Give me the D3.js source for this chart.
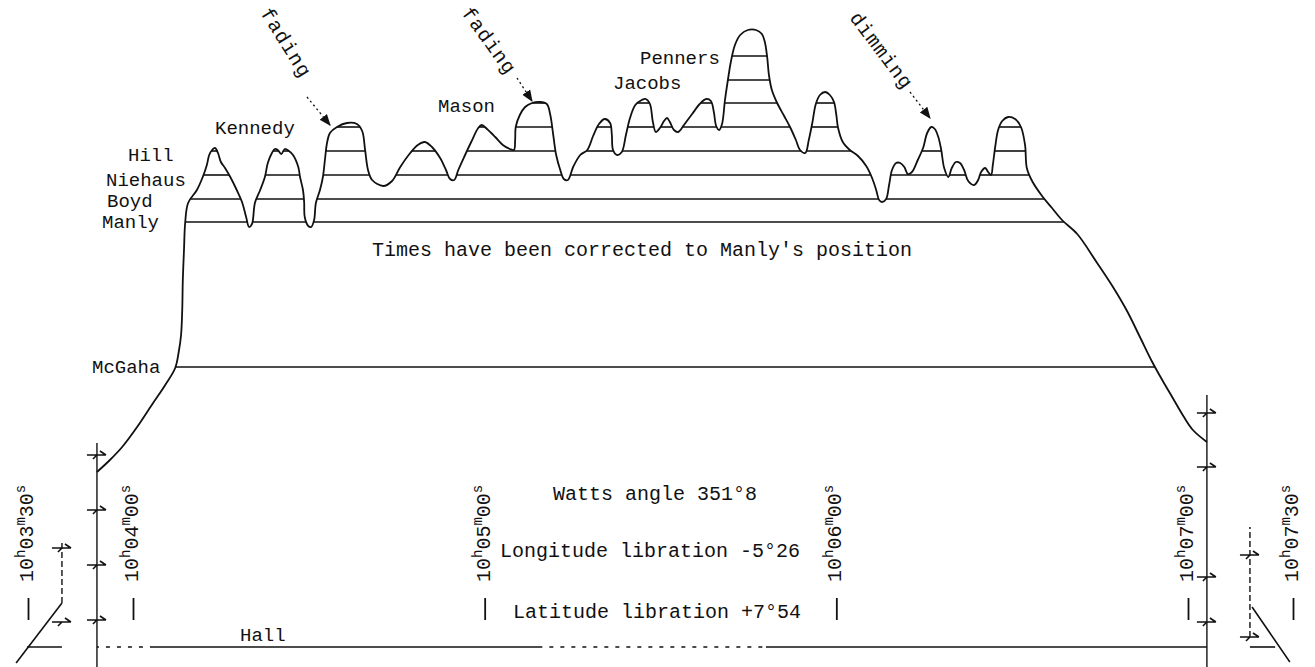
<!DOCTYPE html>
<html>
<head>
<meta charset="utf-8">
<script src="https://cdn.jsdelivr.net/npm/d3@7"></script>
<style>
  body { margin: 0; background: #fff; }
  text { font-family: "Liberation Mono", "DejaVu Sans Mono", monospace; fill: #111; }
</style>
</head>
<body>
<div id="chart"></div>
<script>
// times are seconds after 10h00m00s, heights are metres above Hall's chord
const timeTicks = [210, 240, 300, 360, 420, 450];

const observers = ["Hall", "McGaha", "Manly", "Boyd", "Niehaus", "Hill", "Kennedy", "Mason", "Jacobs", "Penners"];
const chordHeights = [0, 280, 425, 448, 472, 496, 520, 544, 567, 591];

// Hall's chord, with the stretches where it is only dotted
const hallSegments = [[209.7, 219.7], [229.7, 425.4], [437.7, 444.9]];
const hallDotted = [[229.7, 242.9], [309.5, 348]];

// Hall's timing marks (vertical scales)
const eventTimes = [219.7, 229.7, 425.4, 437.7];
const eventSpans = [[44, 107], [-20, 204], [-20, 252], [10, 120]];
const eventMarks = [[25, 99], [27, 82, 137, 192], [25, 70, 180, 234], [10, 92]];

// short limb fragments drawn beside Hall's outer marks
const leftFragment = [[206.6, -16], [219.7, 44]];
const rightFragment = [[438.3, 40], [449.1, -15]];

// the lunar limb profile
const profile = [
  [229.7,175],[233.4,187],[236.9,200],[240.7,220],[243.2,242],[245.5,262],[247.2,279],[247.8,295],
  [248.2,312],[248.4,337],[248.5,367],[248.7,397],[248.9,424],[249.4,444],[250.9,457],[251.9,470],
  [252.6,482],[253.0,492],[253.5,497],[254.0,499],[254.5,494],[255.0,485],[255.7,479],[256.6,470],
  [257.7,457],[258.6,445],[259.3,430],[259.8,420],[260.3,423],[260.8,444],[261.7,457],[262.5,470],
  [263.0,484],[263.7,494],[264.2,498],[264.7,497],[265.3,493],[265.9,498],[266.6,496],[267.3,492],
  [268.2,480],[268.5,470],[269.0,457],[269.2,445],[269.3,430],[269.9,421],[270.4,420],[270.9,427],
  [271.2,444],[271.9,457],[272.4,470],[272.8,490],[273.1,504],[273.6,514],[274.8,520],[276.5,524],
  [278.2,523],[279.1,516],[279.6,497],[280.1,477],[280.8,467],[282.7,461],[284.2,466],[285.6,480],
  [287.3,494],[288.6,502],[289.8,505],[291.0,500],[292.4,489],[293.4,477],[294.1,468],[294.8,467],
  [295.5,477],[296.5,490],[297.7,505],[298.9,519],[299.5,522],[300.4,518],[301.8,510],[303.1,502],
  [304.3,498],[305.0,497],[305.2,507],[305.3,520],[306.0,532],[306.9,540],[308.1,544],[309.4,545],
  [310.6,543],[311.2,532],[311.7,512],[312.2,492],[312.9,477],[313.5,468],[314.2,467],[315.1,480],
  [316.3,492],[317.5,497],[318.5,511],[319.5,523],[320.5,528],[321.4,524],[321.7,512],[321.9,497],
  [322.6,492],[323.4,495],[324.1,512],[324.8,529],[325.7,542],[326.8,547],[327.5,548],[328.2,543],
  [328.7,525],[329.2,515],[329.9,519],[330.6,526],[331.1,529],[331.6,525],[332.3,517],[333.0,515],
  [334.0,522],[335.4,533],[336.7,543],[337.8,548],[338.6,546],[339.1,535],[339.5,521],[340.0,517],
  [340.5,523],[341.0,547],[341.5,567],[342.0,585],[342.7,602],[343.6,612],[344.9,617],[346.3,617],
  [347.3,613],[347.8,605],[348.2,590],[348.5,572],[349.0,557],[349.9,544],[351.1,531],[352.1,520],
  [353.1,507],[353.8,497],[354.7,494],[355.3,507],[355.9,524],[356.5,543],[357.2,552],[358.1,555],
  [358.9,552],[359.6,545],[360.0,532],[360.3,519],[361.1,505],[362.3,497],[363.7,491],[365.1,481],
  [366.1,469],[366.8,457],[367.3,447],[367.8,445],[368.5,448],[369.0,462],[369.5,477],[370.2,484],
  [370.9,484],[371.6,480],[372.2,473],[372.9,475],[373.9,487],[374.8,499],[375.5,514],[376.2,520],
  [376.8,518],[377.4,510],[377.9,497],[378.4,479],[379.1,470],[379.7,479],[380.4,485],[381.1,484],
  [381.8,477],[382.5,466],[383.5,462],[384.2,467],[384.7,475],[385.4,479],[385.9,475],[386.4,472],
  [386.7,482],[387.1,500],[387.6,517],[388.3,526],[389.3,530],[390.5,528],[391.5,520],[392.2,502],
  [392.5,479],[393.4,466],[395.1,451],[396.8,439],[398.5,427],[401.1,413],[404.5,384],[407.2,360],
  [409.6,336],[411.8,310],[413.9,285],[415.7,266],[417.4,249],[419.2,231],[421.4,217],[425.4,205]
];

// label layout (pixels)
const observerLabels = [
  { name: "McGaha", x: 92, y: 373 },
  { name: "Manly", x: 102, y: 228 },
  { name: "Boyd", x: 107, y: 207 },
  { name: "Niehaus", x: 106, y: 186 },
  { name: "Hill", x: 128, y: 161 },
  { name: "Kennedy", x: 215, y: 134 },
  { name: "Mason", x: 438, y: 112 },
  { name: "Jacobs", x: 613, y: 89 },
  { name: "Penners", x: 640, y: 64 },
  { name: "Hall", x: 240, y: 641 }
];
const notes = [
  { text: "Times have been corrected to Manly's position", x: 372, y: 256 },
  { text: "Watts angle 351°8", x: 553, y: 500 },
  { text: "Longitude libration -5°26", x: 500, y: 557 },
  { text: "Latitude libration +7°54", x: 513, y: 618 }
];
const slanted = [
  { text: "fading", x: 260, y: 13, angle: 58, from: [307, 97], to: [330, 125] },
  { text: "fading", x: 461, y: 13, angle: 54, from: [517, 78], to: [532, 101] },
  { text: "dimming", x: 849, y: 18, angle: 53, from: [910, 92], to: [930, 118] }
];

const w = 1315, h = 667;

const x = d3.scaleLinear().domain([210, 240, 420, 450]).range([28, 133, 1188, 1293]);
const y = d3.scaleLinear().domain([0, 600]).range([647, 47]);

const svg = d3.select("#chart").append("svg")
  .attr("width", w)
  .attr("height", h)
  .style("background-color", "#fff");

svg.append("defs").append("marker")
  .attr("id", "head")
  .attr("viewBox", "0 0 10 10")
  .attr("refX", 9).attr("refY", 5)
  .attr("markerWidth", 9).attr("markerHeight", 9)
  .attr("orient", "auto-start-reverse")
  .append("path")
  .attr("d", "M0,1 L10,5 L0,9 Z")
  .attr("fill", "#111");

const line = d3.line().x(d => x(d[0])).y(d => y(d[1]));

// profile
const profilePath = svg.append("path")
  .datum(profile)
  .attr("d", line.curve(d3.curveCatmullRom.alpha(0.5)))
  .attr("fill", "none")
  .attr("stroke", "#111")
  .attr("stroke-width", 1.8);

line.curve(d3.curveLinear);
[leftFragment, rightFragment].forEach(f => {
  svg.append("path").datum(f).attr("d", line)
    .attr("fill", "none").attr("stroke", "#111").attr("stroke-width", 1.6);
});

// chords: where the observer's level lies under the profile
const node = profilePath.node();
const len = node.getTotalLength();
const pts = d3.range(0, len, 0.5).map(l => node.getPointAtLength(l));

chordHeights.forEach((ch, i) => {
  if (i === 0) return;
  const py = y(ch);
  const xs = [];
  for (let k = 1; k < pts.length; k++) {
    const a = pts[k - 1], b = pts[k];
    if ((a.y - py) * (b.y - py) < 0) xs.push(a.x + (b.x - a.x) * (py - a.y) / (b.y - a.y));
  }
  for (let k = 0; k + 1 < xs.length; k += 2) {
    svg.append("line")
      .attr("x1", xs[k]).attr("x2", xs[k + 1])
      .attr("y1", py).attr("y2", py)
      .attr("stroke", "#111")
      .attr("stroke-width", 1.6);
  }
});

// Hall
hallSegments.forEach(s => {
  svg.append("line")
    .attr("x1", x(s[0])).attr("x2", x(s[1]))
    .attr("y1", y(0)).attr("y2", y(0))
    .attr("stroke", "#111").attr("stroke-width", 1.6);
});
hallDotted.forEach(s => {
  svg.append("line")
    .attr("x1", x(s[0]) + 2).attr("x2", x(s[1]))
    .attr("y1", y(0)).attr("y2", y(0))
    .attr("stroke", "#fff").attr("stroke-width", 3)
    .attr("stroke-dasharray", "7,4");
});

// timing marks
eventTimes.forEach((t, i) => {
  const ex = x(t);
  svg.append("line")
    .attr("x1", ex).attr("x2", ex)
    .attr("y1", y(eventSpans[i][0])).attr("y2", y(eventSpans[i][1]))
    .attr("stroke", "#111").attr("stroke-width", 1.4)
    .attr("stroke-dasharray", i === 0 || i === 3 ? "6,3" : null);
  eventMarks[i].forEach(m => {
    const my = y(m);
    svg.append("path")
      .attr("d", `M${ex - 10},${my} L${ex + 9},${my} M${ex + 3},${my - 4} L${ex + 9},${my} M${ex - 4},${my + 4} L${ex},${my}`)
      .attr("fill", "none").attr("stroke", "#111").attr("stroke-width", 1.6);
  });
});

// time axis ticks
svg.append("g")
  .attr("transform", "translate(0,598)")
  .call(d3.axisBottom(x).tickValues(timeTicks).tickSize(22).tickFormat(""))
  .call(g => g.select(".domain").remove())
  .call(g => g.selectAll("line").attr("stroke", "#111").attr("stroke-width", 1.8));

const fmt2 = d3.format("02");
timeTicks.forEach(t => {
  const lab = svg.append("text")
    .attr("transform", `translate(${x(t) + 5},582) rotate(-90)`)
    .style("font-size", "20px");
  const parts = [["10", "h"], [fmt2(Math.floor(t / 60)), "m"], [fmt2(t % 60), "s"]];
  parts.forEach((p, k) => {
    lab.append("tspan").text(p[0]).attr("dy", k === 0 ? 0 : 8);
    lab.append("tspan").text(p[1]).attr("dy", -8).style("font-size", "14px");
  });
});

// labels
svg.selectAll(".obs")
  .data(observerLabels)
  .enter()
  .append("text")
  .attr("x", d => d.x)
  .attr("y", d => d.y)
  .style("font-size", "19px")
  .text(d => d.name);

svg.selectAll(".note")
  .data(notes)
  .enter()
  .append("text")
  .attr("x", d => d.x)
  .attr("y", d => d.y)
  .style("font-size", "20px")
  .text(d => d.text);

slanted.forEach(d => {
  svg.append("text")
    .attr("transform", `translate(${d.x},${d.y}) rotate(${d.angle})`)
    .style("font-size", "20px")
    .style("letter-spacing", "1px")
    .text(d.text);
  svg.append("line")
    .attr("x1", d.from[0]).attr("y1", d.from[1])
    .attr("x2", d.to[0]).attr("y2", d.to[1])
    .attr("stroke", "#111").attr("stroke-width", 1.3)
    .attr("stroke-dasharray", "2,3")
    .attr("marker-end", "url(#head)");
});
</script>
</body>
</html>
